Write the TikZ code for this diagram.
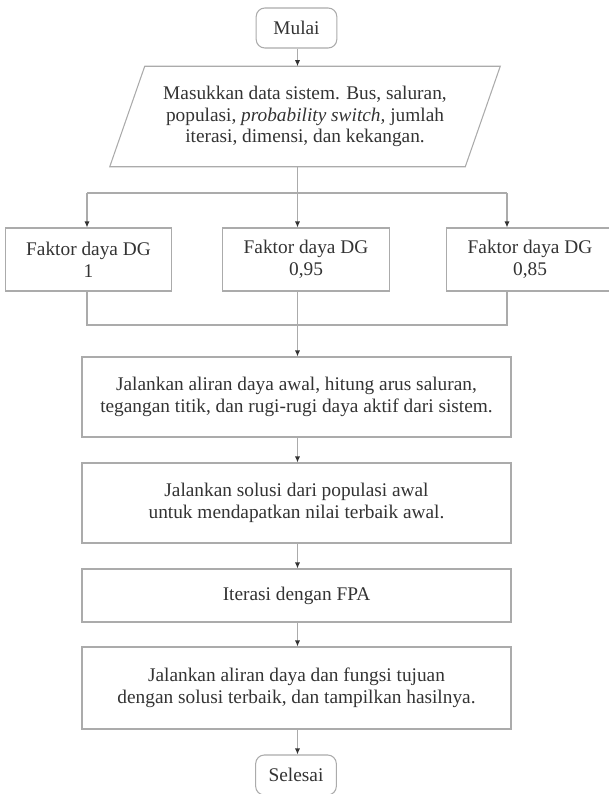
\documentclass[tikz,border=0pt]{standalone}
\usepackage{fontspec}
\setmainfont{Liberation Serif}
\usetikzlibrary{arrows.meta,calc}

\definecolor{linegray}{HTML}{ABABAB}
\definecolor{textgray}{HTML}{333333}

\begin{document}
\begin{tikzpicture}[x=0.75pt, y=-0.75pt, font=\fontsize{14.5}{16.4}\selectfont, text=textgray,
	flowline/.style={draw=linegray, line width=0.8pt},
	flowarrow/.style={flowline, -{Latex[length=4.5pt, width=3.8pt, color=textgray]}},
	terminal/.style={flowline, rounded corners=6.5pt, minimum width=60.5pt, minimum height=30pt, inner sep=0pt},
	process/.style={flowline, minimum width=321.75pt, inner sep=0pt, align=center},
	factor/.style={flowline, minimum width=125pt, minimum height=47.25pt, inner sep=0pt, align=center}]
	\useasboundingbox (0,0) rectangle (609,794);
	\node[terminal] (start) at (296.5,28) {Mulai};
	\node[minimum width=266.25pt, minimum height=75pt, inner sep=0pt, align=center] (input) at (305,116.5)
	  {Masukkan data sistem. Bus, saluran,\\populasi, \textit{probability switch,} jumlah\\iterasi, dimensi, dan kekangan.};
	\draw[flowline] ($(input.north west)+(17.5,0)$) -- ($(input.north east)+(17.5,0)$)
	  -- ($(input.south east)+(-17.5,0)$) -- ($(input.south west)+(-17.5,0)$) -- cycle;
	\node[factor] (dg1) at (88.5,259.5) {Faktor daya DG\\1};
	\node[factor] (dg2) at (306,259.5) {Faktor daya DG\\0,95};
	\node[factor] (dg3) at (530,259.5) {Faktor daya DG\\0,85};
	\node[process, minimum height=60pt] (flow) at (296.5,397)
	  {Jalankan aliran daya awal, hitung arus saluran,\\tegangan titik, dan rugi-rugi daya aktif dari sistem.};
	\node[process, minimum height=60pt] (init) at (296.5,503)
	  {Jalankan solusi dari populasi awal\\untuk mendapatkan nilai terbaik awal.};
	\node[process, minimum height=39.75pt] (fpa) at (296.5,595.5) {Iterasi dengan FPA};
	\node[process, minimum height=61.5pt] (final) at (296.5,688)
	  {Jalankan aliran daya dan fungsi tujuan\\dengan solusi terbaik, dan tampilkan hasilnya.};
	\node[terminal] (stop) at (296,775) {Selesai};
	\coordinate (split) at (297.5,193);
	\coordinate (splitL) at (87,193);
	\coordinate (splitR) at (507,193);
	\coordinate (mergeL) at (87,325);
	\coordinate (mergeR) at (507,325);
	\draw[flowarrow] (start.south -| split) -- (split |- input.north);
	\draw[flowline] (input.south -| split) -- (split);
	\draw[flowline] (splitL) -- (splitR);
	\draw[flowarrow] (splitL) -- (splitL |- dg1.north);
	\draw[flowarrow] (split) -- (split |- dg2.north);
	\draw[flowarrow] (splitR) -- (splitR |- dg3.north);
	\draw[flowline] (dg1.south -| mergeL) -- (mergeL) -- (mergeR) -- (dg3.south -| mergeR);
	\draw[flowarrow] (dg2.south -| split) -- (split |- flow.north);
	\draw[flowarrow] (flow.south -| split) -- (split |- init.north);
	\draw[flowarrow] (init.south -| split) -- (split |- fpa.north);
	\draw[flowarrow] (fpa.south -| split) -- (split |- final.north);
	\draw[flowarrow] (final.south -| split) -- (split |- stop.north);
\end{tikzpicture}
\end{document}
